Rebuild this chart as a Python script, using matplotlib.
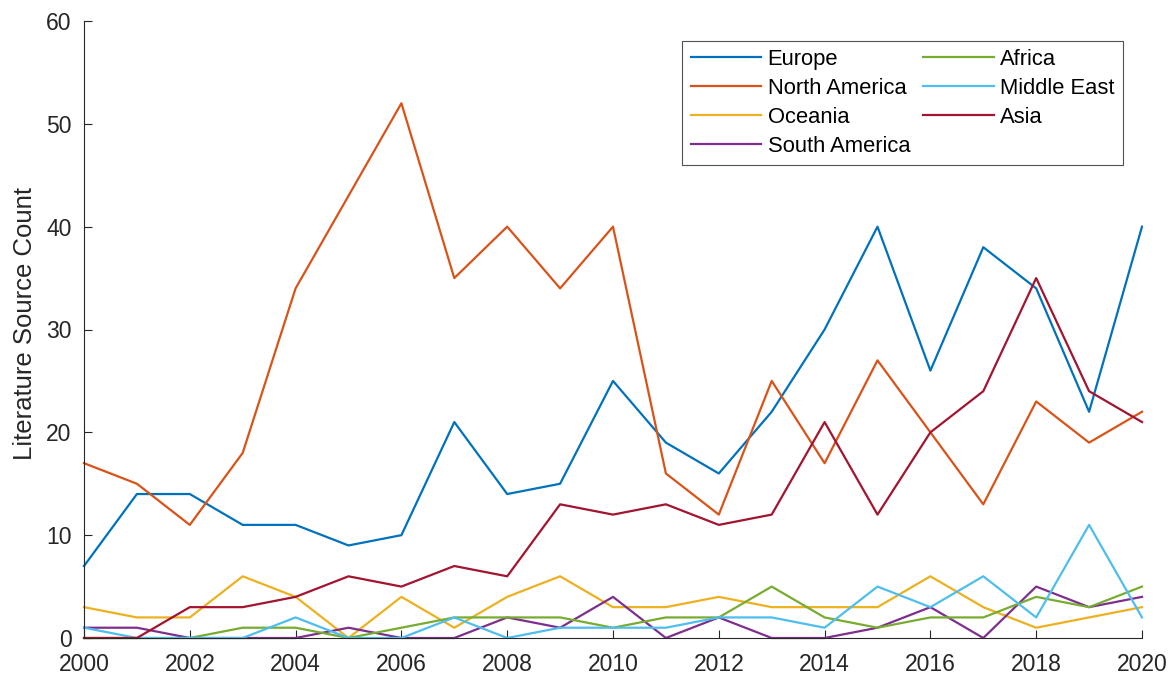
import matplotlib.pyplot as plt

plt.rcParams['font.family'] = ['Liberation Sans', 'DejaVu Sans']

years = list(range(2000, 2021))

europe = [7, 14, 14, 11, 11, 9, 10, 21, 14, 15, 25, 19, 16, 22, 30, 40, 26, 38, 34, 22, 40]
north_america = [17, 15, 11, 18, 34, 43, 52, 35, 40, 34, 40, 16, 12, 25, 17, 27, 20, 13, 23, 19, 22]
oceania = [3, 2, 2, 6, 4, 0, 4, 1, 4, 6, 3, 3, 4, 3, 3, 3, 6, 3, 1, 2, 3]
south_america = [1, 1, 0, 0, 0, 1, 0, 0, 2, 1, 4, 0, 2, 0, 0, 1, 3, 0, 5, 3, 4]
africa = [0, 0, 0, 1, 1, 0, 1, 2, 2, 2, 1, 2, 2, 5, 2, 1, 2, 2, 4, 3, 5]
middle_east = [1, 0, 0, 0, 2, 0, 0, 2, 0, 1, 1, 1, 2, 2, 1, 5, 3, 6, 2, 11, 2]
asia = [0, 0, 3, 3, 4, 6, 5, 7, 6, 13, 12, 13, 11, 12, 21, 12, 20, 24, 35, 24, 21]

series = [
    ('Europe', europe, '#0072BD'),
    ('North America', north_america, '#D95319'),
    ('Oceania', oceania, '#EDB120'),
    ('South America', south_america, '#7E2F8E'),
    ('Africa', africa, '#77AC30'),
    ('Middle East', middle_east, '#4DBEEE'),
    ('Asia', asia, '#A2142F'),
]

fig = plt.figure(figsize=(11.7, 6.74), dpi=100)
ax = fig.add_axes([84 / 1170, 36 / 674, 1058 / 1170, 617 / 674])

for name, vals, col in series:
    ax.plot(years, vals, color=col, lw=1.6, label=name, clip_on=False)

ax.set_xlim(2000, 2020)
ax.set_ylim(0, 60)
ax.set_xticks(range(2000, 2021, 2))
ax.set_yticks(range(0, 61, 10))
ax.set_ylabel('Literature Source Count', fontsize=18.5, color='#262626')
ax.yaxis.set_label_coords(-0.044, 0.51)

for s in ['top', 'right']:
    ax.spines[s].set_visible(False)
for s in ['left', 'bottom']:
    ax.spines[s].set_color('#262626')
    ax.spines[s].set_linewidth(0.8)
ax.tick_params(direction='in', length=6, labelsize=16.5, colors='#262626')
ax.tick_params(axis='x', pad=11)
ax.tick_params(axis='y', pad=9)

leg = ax.legend(ncol=2, loc='upper right', bbox_to_anchor=(0.982, 0.968),
                fontsize=15.8, handlelength=3.2, frameon=True, fancybox=False,
                borderpad=0.38, labelspacing=0.36, columnspacing=0.6, handletextpad=0.3,
                borderaxespad=0)
leg.get_frame().set_edgecolor('#262626')
leg.get_frame().set_linewidth(0.8)

fig.savefig('out.png', dpi=100)
